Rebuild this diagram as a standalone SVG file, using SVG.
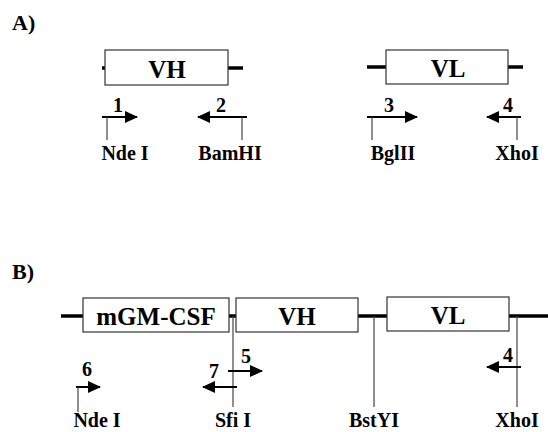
<svg xmlns="http://www.w3.org/2000/svg" width="548" height="432" viewBox="0 0 548 432">
<defs>
<style>
text{font-family:"Liberation Serif","Times New Roman",serif;font-weight:bold;fill:#000}
.panel{font-size:22px}
.box{fill:#fff;stroke:#333;stroke-width:1.2}
.blabel{font-size:25px;text-anchor:middle}
.num{font-size:20px;text-anchor:middle}
.site{font-size:20px;text-anchor:middle}
.dna{stroke:#000;stroke-width:3.5;fill:none}
.tick{stroke:#444;stroke-width:1.2;fill:none}
.arr{stroke:#000;stroke-width:2;fill:none;marker-end:url(#ah)}
</style>
<marker id="ah" viewBox="0 0 13 12" refX="12" refY="6" markerWidth="13" markerHeight="12" markerUnits="userSpaceOnUse" orient="auto">
<path d="M0,0 L13,6 L0,12 z" fill="#000"/>
</marker>
</defs>
<rect width="548" height="432" fill="#fff"/>
<text class="panel" x="12" y="30">A)</text>
<text class="panel" x="12" y="279">B)</text>
<g id="connectors">
<line class="dna" x1="102" y1="68" x2="105" y2="68"/>
<line class="dna" x1="228" y1="68" x2="243" y2="68"/>
<line class="dna" x1="367" y1="67" x2="386" y2="67"/>
<line class="dna" x1="508" y1="67" x2="523" y2="67"/>
<line class="arr" x1="102" y1="117" x2="137" y2="117"/>
<line class="tick" x1="107" y1="117" x2="107" y2="140"/>
<line class="arr" x1="247" y1="117" x2="198" y2="117"/>
<line class="tick" x1="242" y1="117" x2="242" y2="140"/>
<line class="arr" x1="367" y1="117" x2="417" y2="117"/>
<line class="tick" x1="372" y1="117" x2="372" y2="140"/>
<line class="arr" x1="521" y1="117" x2="487" y2="117"/>
<line class="tick" x1="517" y1="117" x2="517" y2="140"/>
<line class="dna" x1="61" y1="316" x2="83" y2="316"/>
<line class="dna" x1="229" y1="316" x2="236" y2="316"/>
<line class="dna" x1="358" y1="316" x2="387" y2="316"/>
<line class="dna" x1="509" y1="316" x2="548" y2="316"/>
<line class="tick" x1="233" y1="316" x2="233" y2="407"/>
<line class="tick" x1="374" y1="316" x2="374" y2="407"/>
<line class="tick" x1="517" y1="316" x2="517" y2="407"/>
<line class="arr" x1="76" y1="387" x2="100" y2="387"/>
<line class="tick" x1="78" y1="387" x2="78" y2="412"/>
<line class="arr" x1="228" y1="371" x2="262" y2="371"/>
<line class="arr" x1="237" y1="387" x2="203" y2="387"/>
<line class="arr" x1="521" y1="367" x2="487" y2="367"/>
</g>
<g id="A-VH"><rect class="box" x="105" y="50" width="123" height="35"/><text class="blabel" x="167" y="78">VH</text></g>
<g id="A-VL"><rect class="box" x="386" y="50" width="122" height="34"/><text class="blabel" x="448" y="77">VL</text></g>
<g id="A-p1"><text class="num" x="118" y="112">1</text></g>
<g id="A-p2"><text class="num" x="221" y="112">2</text></g>
<g id="A-p3"><text class="num" x="389" y="112">3</text></g>
<g id="A-p4"><text class="num" x="508" y="112">4</text></g>
<g id="A-NdeI"><text class="site" x="125" y="160">Nde I</text></g>
<g id="A-BamHI"><text class="site" x="230" y="160">BamHI</text></g>
<g id="A-BglII"><text class="site" x="393" y="160">BglII</text></g>
<g id="A-XhoI"><text class="site" x="517" y="160">XhoI</text></g>
<g id="B-mGM"><rect class="box" x="83" y="298" width="146" height="34"/><text class="blabel" x="156" y="325">mGM-CSF</text></g>
<g id="B-VH"><rect class="box" x="236" y="298" width="122" height="34"/><text class="blabel" x="297" y="325">VH</text></g>
<g id="B-VL"><rect class="box" x="387" y="297" width="122" height="34"/><text class="blabel" x="448" y="324">VL</text></g>
<g id="B-p6"><text class="num" x="87" y="376">6</text></g>
<g id="B-p7"><text class="num" x="214" y="378">7</text></g>
<g id="B-p5"><text class="num" x="246" y="363">5</text></g>
<g id="B-p4"><text class="num" x="508" y="362">4</text></g>
<g id="B-NdeI"><text class="site" x="97" y="427">Nde I</text></g>
<g id="B-SfiI"><text class="site" x="233" y="427">Sfi I</text></g>
<g id="B-BstYI"><text class="site" x="374" y="427">BstYI</text></g>
<g id="B-XhoI"><text class="site" x="517" y="427">XhoI</text></g>
</svg>
